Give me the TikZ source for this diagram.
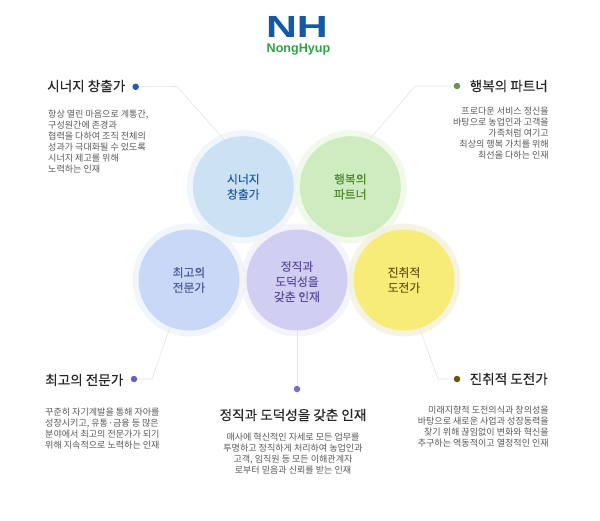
\documentclass[tikz,border=0pt]{standalone}
\usepackage{fontspec}
\setmainfont{Noto Sans CJK KR}
\newfontfamily\semifont[FakeBold=0.25]{Noto Sans CJK KR}
\newfontfamily\logofont{Liberation Sans}
\definecolor{cA}{HTML}{CDE1F4}
\definecolor{cB}{HTML}{CFEBC0}
\definecolor{cC}{HTML}{C9D8F7}
\definecolor{cD}{HTML}{D0CFF2}
\definecolor{cE}{HTML}{F8EC78}
\definecolor{tA}{HTML}{1F5FA3}
\definecolor{tB}{HTML}{4F8A2F}
\definecolor{tC}{HTML}{4A5A9A}
\definecolor{tD}{HTML}{5A4F9E}
\definecolor{tE}{HTML}{6B5A10}
\definecolor{hA}{HTML}{EDF4FB}
\definecolor{hB}{HTML}{EEF8E8}
\definecolor{hC}{HTML}{EFF3FC}
\definecolor{hD}{HTML}{F2F2FB}
\definecolor{hE}{HTML}{F4F1DE}
\definecolor{dA}{HTML}{1F5FA3}
\definecolor{dB}{HTML}{6A9250}
\definecolor{dC}{HTML}{6664B8}
\definecolor{dD}{HTML}{7A6CD6}
\definecolor{dE}{HTML}{68540A}
\definecolor{logoblue}{HTML}{1259A8}
\definecolor{logogreen}{HTML}{2FA24A}
\tikzset{
  halo/.style={circle,minimum size=113pt,inner sep=0pt,outer sep=0pt,fill=#1,fill opacity=.85},
  disc/.style={circle,minimum size=101pt,inner sep=0pt,outer sep=0pt,fill=#1,align=center,
    font=\semifont\fontsize{11.8}{15.2}\selectfont},
  dotmark/.style={circle,minimum size=6.5pt,inner sep=0pt,outer sep=0pt,fill=#1},
  headline/.style={font=\semifont\fontsize{13.6}{16}\selectfont,text=black!85,inner sep=0pt},
  body/.style={font=\fontsize{9.05}{11}\selectfont,text=black!65,inner sep=0pt},
  leader/.style={draw=black!11,line width=.6pt,line join=round}
}
\begin{document}
\begin{tikzpicture}[x=1pt,y=-1pt]
\useasboundingbox (0,0) rectangle (600,520);
% logo
\node[inner sep=0pt,text=logoblue] (logoa) at (297,26.6) {\logofont\bfseries\scalebox{1.4}[1]{\fontsize{30.6}{32}\selectfont NH}};
\node[inner sep=0pt,text=logogreen] (logob) at (298.5,49) {\logofont\bfseries\fontsize{12.6}{14}\selectfont NongHyup};
% halos
\node[halo=hA] at (243.3,186.7) {};
\node[halo=hB] at (350.3,186.7) {};
\node[halo=hC] at (189,280) {};
\node[halo=hD] at (297,280) {};
\node[halo=hE] at (404,280) {};
% discs
\node[disc=cA,text=tA] (c1) at (243.3,186.7) {시너지\\창출가};
\node[disc=cB,text=tB] (c2) at (350.3,186.7) {행복의\\파트너};
\node[disc=cC,text=tC] (c3) at (189,280) {최고의\\전문가};
\node[disc=cD,text=tD] (c4) at (297,280) {\rule{0pt}{13pt}정직과\\도덕성을\\갖춘 인재};
\node[disc=cE,text=tE] (c5) at (404,280) {진취적\\도전가};
% dots
\node[dotmark=dA] (d1) at (135.7,86.8) {};
\node[dotmark=dB] (d2) at (457,86) {};
\node[dotmark=dC] (d3) at (134,379) {};
\node[dotmark=dD] (d4) at (297,389) {};
\node[dotmark=dE] (d5) at (457,379) {};
% bends
\coordinate (b1) at (177,86.5);
\coordinate (b2) at (415,86);
\coordinate (b3) at (152,379);
\coordinate (b5) at (438,379);
% connectors
\draw[leader] (d1) -- (b1) -- (c1.112);
\draw[leader] (d2) -- (b2) -- (c2.68);
\draw[leader] (d3) -- (b3) -- (c3.248);
\draw[leader] (d4) -- (c4.south);
\draw[leader] (d5) -- (b5) -- (c5.288);
% headings
\node[headline,anchor=west] (h1) at (47,86) {시너지 창출가};
\node[headline,anchor=east] (h2) at (548,86) {행복의 파트너};
\node[headline,anchor=west] (h3) at (45,380) {최고의 전문가};
\node[headline] (h4) at (293,415) {정직과 도덕성을 갖춘 인재};
\node[headline,anchor=east] (h5) at (548,379) {진취적 도전가};
% descriptions
\node[body,anchor=west,align=left] (t1) at (48,141.5) {항상 열린 마음으로 계통간,\\구성원간에 존경과\\협력을 다하여 조직 전체의\\성과가 극대화될 수 있도록\\시너지 제고를 위해\\노력하는 인재};
\node[body,anchor=east,align=right] (t2) at (549,133) {프로다운 서비스 정신을\\바탕으로 농업인과 고객을\\가족처럼 여기고\\최상의 행복 가치를 위해\\최선을 다하는 인재};
\node[body,anchor=west,align=left] (t3) at (45,428.5) {꾸준히 자기계발을 통해 자아를\\성장시키고, 유통·금융 등 많은\\분야에서 최고의 전문가가 되기\\위해 지속적으로 노력하는 인재};
\node[body,align=center] (t4) at (293,453.5) {매사에 혁신적인 자세로 모든 업무를\\투명하고 정직하게 처리하여 농업인과\\고객, 임직원 등 모든 이해관계자\\로부터 믿음과 신뢰를 받는 인재};
\node[body,anchor=east,align=right] (t5) at (549,426.5) {미래지향적 도전의식과 창의성을\\바탕으로 새로운 사업과 성장동력을\\찾기 위해 끊임없이 변화와 혁신을\\추구하는 역동적이고 열정적인 인재};
\end{tikzpicture}
\end{document}
